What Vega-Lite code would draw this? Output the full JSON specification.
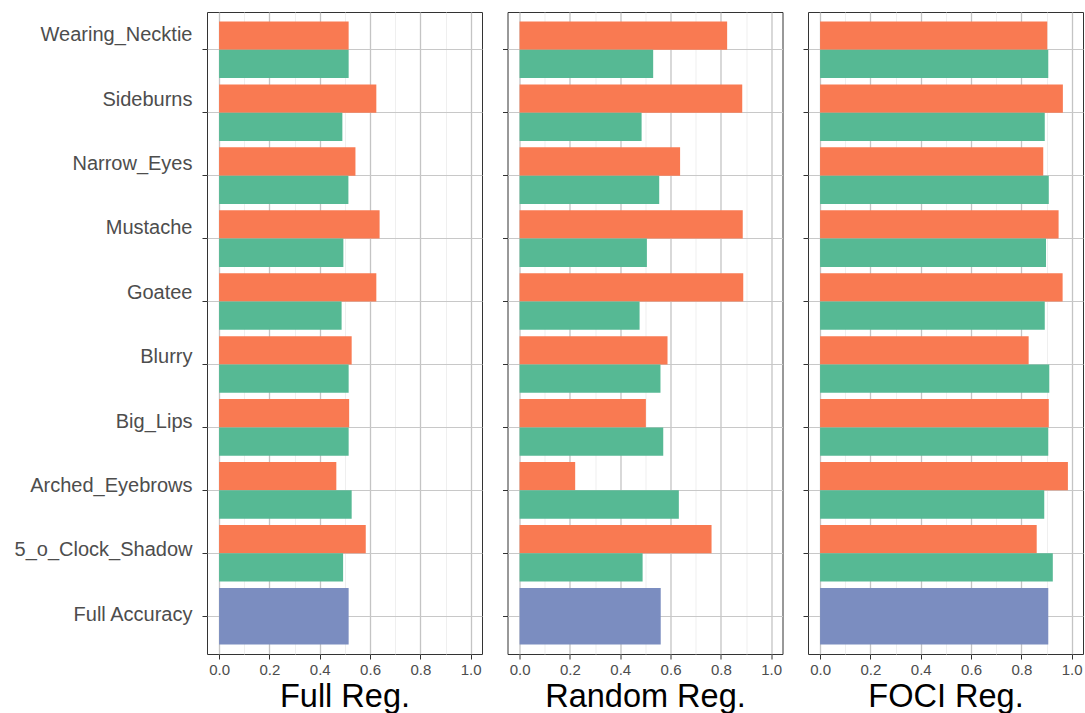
{
  "$schema": "https://vega.github.io/schema/vega-lite/v6.json",
  "padding": {"left": 13, "top": 11, "right": 2, "bottom": 0},
  "config": {
    "font": "Liberation Sans",
    "view": {"stroke": "#333333", "strokeWidth": 1},
    "concat": {"spacing": 25.5}
  },
  "bounds": "flush",
  "data": {
    "values": [
      {"panel": "Full Reg.", "attr": "Wearing_Necktie", "group": "A", "value": 0.515},
      {"panel": "Full Reg.", "attr": "Wearing_Necktie", "group": "B", "value": 0.515},
      {"panel": "Full Reg.", "attr": "Sideburns", "group": "A", "value": 0.625},
      {"panel": "Full Reg.", "attr": "Sideburns", "group": "B", "value": 0.49},
      {"panel": "Full Reg.", "attr": "Narrow_Eyes", "group": "A", "value": 0.542},
      {"panel": "Full Reg.", "attr": "Narrow_Eyes", "group": "B", "value": 0.514},
      {"panel": "Full Reg.", "attr": "Mustache", "group": "A", "value": 0.638},
      {"panel": "Full Reg.", "attr": "Mustache", "group": "B", "value": 0.494},
      {"panel": "Full Reg.", "attr": "Goatee", "group": "A", "value": 0.625},
      {"panel": "Full Reg.", "attr": "Goatee", "group": "B", "value": 0.487},
      {"panel": "Full Reg.", "attr": "Blurry", "group": "A", "value": 0.527},
      {"panel": "Full Reg.", "attr": "Blurry", "group": "B", "value": 0.515},
      {"panel": "Full Reg.", "attr": "Big_Lips", "group": "A", "value": 0.517},
      {"panel": "Full Reg.", "attr": "Big_Lips", "group": "B", "value": 0.515},
      {"panel": "Full Reg.", "attr": "Arched_Eyebrows", "group": "A", "value": 0.466},
      {"panel": "Full Reg.", "attr": "Arched_Eyebrows", "group": "B", "value": 0.527},
      {"panel": "Full Reg.", "attr": "5_o_Clock_Shadow", "group": "A", "value": 0.583},
      {"panel": "Full Reg.", "attr": "5_o_Clock_Shadow", "group": "B", "value": 0.493},
      {"panel": "Full Reg.", "attr": "Full Accuracy", "group": "Full", "value": 0.515},

      {"panel": "Random Reg.", "attr": "Wearing_Necktie", "group": "A", "value": 0.825},
      {"panel": "Random Reg.", "attr": "Wearing_Necktie", "group": "B", "value": 0.531},
      {"panel": "Random Reg.", "attr": "Sideburns", "group": "A", "value": 0.885},
      {"panel": "Random Reg.", "attr": "Sideburns", "group": "B", "value": 0.485},
      {"panel": "Random Reg.", "attr": "Narrow_Eyes", "group": "A", "value": 0.638},
      {"panel": "Random Reg.", "attr": "Narrow_Eyes", "group": "B", "value": 0.555},
      {"panel": "Random Reg.", "attr": "Mustache", "group": "A", "value": 0.887},
      {"panel": "Random Reg.", "attr": "Mustache", "group": "B", "value": 0.506},
      {"panel": "Random Reg.", "attr": "Goatee", "group": "A", "value": 0.889},
      {"panel": "Random Reg.", "attr": "Goatee", "group": "B", "value": 0.477},
      {"panel": "Random Reg.", "attr": "Blurry", "group": "A", "value": 0.588},
      {"panel": "Random Reg.", "attr": "Blurry", "group": "B", "value": 0.56},
      {"panel": "Random Reg.", "attr": "Big_Lips", "group": "A", "value": 0.502},
      {"panel": "Random Reg.", "attr": "Big_Lips", "group": "B", "value": 0.571},
      {"panel": "Random Reg.", "attr": "Arched_Eyebrows", "group": "A", "value": 0.221},
      {"panel": "Random Reg.", "attr": "Arched_Eyebrows", "group": "B", "value": 0.633},
      {"panel": "Random Reg.", "attr": "5_o_Clock_Shadow", "group": "A", "value": 0.763},
      {"panel": "Random Reg.", "attr": "5_o_Clock_Shadow", "group": "B", "value": 0.489},
      {"panel": "Random Reg.", "attr": "Full Accuracy", "group": "Full", "value": 0.561},

      {"panel": "FOCI Reg.", "attr": "Wearing_Necktie", "group": "A", "value": 0.903},
      {"panel": "FOCI Reg.", "attr": "Wearing_Necktie", "group": "B", "value": 0.907},
      {"panel": "FOCI Reg.", "attr": "Sideburns", "group": "A", "value": 0.965},
      {"panel": "FOCI Reg.", "attr": "Sideburns", "group": "B", "value": 0.893},
      {"panel": "FOCI Reg.", "attr": "Narrow_Eyes", "group": "A", "value": 0.887},
      {"panel": "FOCI Reg.", "attr": "Narrow_Eyes", "group": "B", "value": 0.909},
      {"panel": "FOCI Reg.", "attr": "Mustache", "group": "A", "value": 0.948},
      {"panel": "FOCI Reg.", "attr": "Mustache", "group": "B", "value": 0.898},
      {"panel": "FOCI Reg.", "attr": "Goatee", "group": "A", "value": 0.964},
      {"panel": "FOCI Reg.", "attr": "Goatee", "group": "B", "value": 0.893},
      {"panel": "FOCI Reg.", "attr": "Blurry", "group": "A", "value": 0.829},
      {"panel": "FOCI Reg.", "attr": "Blurry", "group": "B", "value": 0.911},
      {"panel": "FOCI Reg.", "attr": "Big_Lips", "group": "A", "value": 0.909},
      {"panel": "FOCI Reg.", "attr": "Big_Lips", "group": "B", "value": 0.907},
      {"panel": "FOCI Reg.", "attr": "Arched_Eyebrows", "group": "A", "value": 0.985},
      {"panel": "FOCI Reg.", "attr": "Arched_Eyebrows", "group": "B", "value": 0.891},
      {"panel": "FOCI Reg.", "attr": "5_o_Clock_Shadow", "group": "A", "value": 0.861},
      {"panel": "FOCI Reg.", "attr": "5_o_Clock_Shadow", "group": "B", "value": 0.925},
      {"panel": "FOCI Reg.", "attr": "Full Accuracy", "group": "Full", "value": 0.907}
    ]
  },
  "hconcat": [
    {
      "width": 275, "height": 642,
      "transform": [{"filter": "datum.panel === 'Full Reg.'"}],
      "resolve": {"axis": {"x": "independent"}},
      "layer": [
        {
          "transform": [{"filter": "datum.group !== 'Full'"}],
          "mark": {"type": "bar"},
          "encoding": {
            "y": {"field": "attr", "type": "nominal", "title": null,
              "scale": {"domain": ["Wearing_Necktie", "Sideburns", "Narrow_Eyes", "Mustache", "Goatee", "Blurry", "Big_Lips", "Arched_Eyebrows", "5_o_Clock_Shadow", "Full Accuracy"], "paddingInner": 0.1, "paddingOuter": 0.15},
              "axis": {"labelFontSize": 20, "labelColor": "#4D4D4D", "labelPadding": 10, "tickSize": 5, "tickColor": "#333333", "domain": false, "grid": true, "gridColor": "#C8C8C8", "gridWidth": 1.2, "labelLimit": 400,
                "labelOffset": {"expr": "-14.5 + 1.46*indexof(['Wearing_Necktie','Sideburns','Narrow_Eyes','Mustache','Goatee','Blurry','Big_Lips','Arched_Eyebrows','5_o_Clock_Shadow','Full Accuracy'], datum.value)"}}},
            "yOffset": {"field": "group", "type": "nominal", "scale": {"domain": ["A", "B"], "paddingInner": 0, "paddingOuter": 0}},
            "x": {"field": "value", "type": "quantitative", "scale": {"domain": [-0.048, 1.045], "nice": false, "zero": false},
              "axis": {"title": "Full Reg.", "values": [0, 0.2, 0.4, 0.6, 0.8, 1.0], "format": ".1f", "grid": true, "gridColor": "#C4C4C4", "gridWidth": 1.3, "domain": false, "tickSize": 5, "tickColor": "#333333", "labelFontSize": 15, "labelColor": "#4D4D4D", "labelPadding": 3, "titleFontSize": 32.5, "titleFontWeight": "normal", "titleColor": "#000000", "titlePadding": 3}},
            "color": {"field": "group", "type": "nominal", "legend": null, "scale": {"domain": ["A", "B", "Full"], "range": ["#F97A52", "#56B994", "#7B8DC0"]}}
          }
        },
        {
          "transform": [{"filter": "datum.group === 'Full'"}],
          "mark": {"type": "bar"},
          "encoding": {
            "y": {"field": "attr", "type": "nominal", "title": null},
            "x": {"field": "value", "type": "quantitative",
              "axis": {"title": null, "values": [0.1, 0.3, 0.5, 0.7, 0.9], "grid": true, "gridColor": "#EBEBEB", "gridWidth": 0.8, "labels": false, "ticks": false, "domain": false}},
            "color": {"field": "group", "type": "nominal", "legend": null}
          }
        }
      ]
    },
    {
      "width": 275, "height": 642,
      "transform": [{"filter": "datum.panel === 'Random Reg.'"}],
      "resolve": {"axis": {"x": "independent"}},
      "layer": [
        {
          "transform": [{"filter": "datum.group !== 'Full'"}],
          "mark": {"type": "bar"},
          "encoding": {
            "y": {"field": "attr", "type": "nominal", "title": null,
              "scale": {"domain": ["Wearing_Necktie", "Sideburns", "Narrow_Eyes", "Mustache", "Goatee", "Blurry", "Big_Lips", "Arched_Eyebrows", "5_o_Clock_Shadow", "Full Accuracy"], "paddingInner": 0.1, "paddingOuter": 0.15},
              "axis": {"labels": false, "tickSize": 5, "tickColor": "#333333", "domain": false, "grid": true, "gridColor": "#C8C8C8", "gridWidth": 1.2}},
            "yOffset": {"field": "group", "type": "nominal", "scale": {"domain": ["A", "B"], "paddingInner": 0, "paddingOuter": 0}},
            "x": {"field": "value", "type": "quantitative", "scale": {"domain": [-0.048, 1.045], "nice": false, "zero": false},
              "axis": {"title": "Random Reg.", "values": [0, 0.2, 0.4, 0.6, 0.8, 1.0], "format": ".1f", "grid": true, "gridColor": "#C4C4C4", "gridWidth": 1.3, "domain": false, "tickSize": 5, "tickColor": "#333333", "labelFontSize": 15, "labelColor": "#4D4D4D", "labelPadding": 3, "titleFontSize": 32.5, "titleFontWeight": "normal", "titleColor": "#000000", "titlePadding": 3}},
            "color": {"field": "group", "type": "nominal", "legend": null, "scale": {"domain": ["A", "B", "Full"], "range": ["#F97A52", "#56B994", "#7B8DC0"]}}
          }
        },
        {
          "transform": [{"filter": "datum.group === 'Full'"}],
          "mark": {"type": "bar"},
          "encoding": {
            "y": {"field": "attr", "type": "nominal", "title": null},
            "x": {"field": "value", "type": "quantitative",
              "axis": {"title": null, "values": [0.1, 0.3, 0.5, 0.7, 0.9], "grid": true, "gridColor": "#EBEBEB", "gridWidth": 0.8, "labels": false, "ticks": false, "domain": false}},
            "color": {"field": "group", "type": "nominal", "legend": null}
          }
        }
      ]
    },
    {
      "width": 275, "height": 642,
      "transform": [{"filter": "datum.panel === 'FOCI Reg.'"}],
      "resolve": {"axis": {"x": "independent"}},
      "layer": [
        {
          "transform": [{"filter": "datum.group !== 'Full'"}],
          "mark": {"type": "bar"},
          "encoding": {
            "y": {"field": "attr", "type": "nominal", "title": null,
              "scale": {"domain": ["Wearing_Necktie", "Sideburns", "Narrow_Eyes", "Mustache", "Goatee", "Blurry", "Big_Lips", "Arched_Eyebrows", "5_o_Clock_Shadow", "Full Accuracy"], "paddingInner": 0.1, "paddingOuter": 0.15},
              "axis": {"labels": false, "tickSize": 5, "tickColor": "#333333", "domain": false, "grid": true, "gridColor": "#C8C8C8", "gridWidth": 1.2}},
            "yOffset": {"field": "group", "type": "nominal", "scale": {"domain": ["A", "B"], "paddingInner": 0, "paddingOuter": 0}},
            "x": {"field": "value", "type": "quantitative", "scale": {"domain": [-0.048, 1.045], "nice": false, "zero": false},
              "axis": {"title": "FOCI Reg.", "values": [0, 0.2, 0.4, 0.6, 0.8, 1.0], "format": ".1f", "grid": true, "gridColor": "#C4C4C4", "gridWidth": 1.3, "domain": false, "tickSize": 5, "tickColor": "#333333", "labelFontSize": 15, "labelColor": "#4D4D4D", "labelPadding": 3, "titleFontSize": 32.5, "titleFontWeight": "normal", "titleColor": "#000000", "titlePadding": 3}},
            "color": {"field": "group", "type": "nominal", "legend": null, "scale": {"domain": ["A", "B", "Full"], "range": ["#F97A52", "#56B994", "#7B8DC0"]}}
          }
        },
        {
          "transform": [{"filter": "datum.group === 'Full'"}],
          "mark": {"type": "bar"},
          "encoding": {
            "y": {"field": "attr", "type": "nominal", "title": null},
            "x": {"field": "value", "type": "quantitative",
              "axis": {"title": null, "values": [0.1, 0.3, 0.5, 0.7, 0.9], "grid": true, "gridColor": "#EBEBEB", "gridWidth": 0.8, "labels": false, "ticks": false, "domain": false}},
            "color": {"field": "group", "type": "nominal", "legend": null}
          }
        }
      ]
    }
  ]
}
